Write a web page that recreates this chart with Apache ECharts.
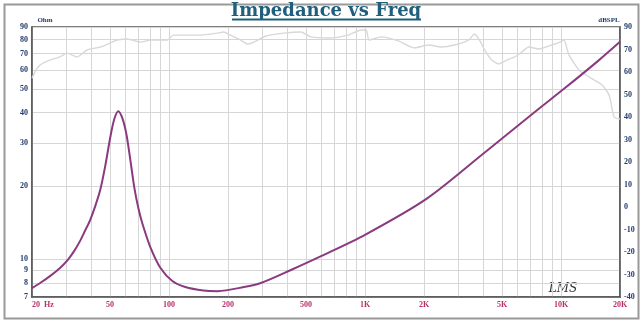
<!DOCTYPE html>
<html><head><meta charset="utf-8">
<script src="https://cdn.jsdelivr.net/npm/echarts@6/dist/echarts.min.js"></script>
<style>html,body{margin:0;padding:0;background:#fff}#c{width:641px;height:321px}</style>
</head><body><div id="c"></div>
<script>
// Impedance curve (Hz, Ohm)
const impFreq = [20, 22.0, 24.7, 27.8, 30.6, 32.8, 35.2, 37.3, 39.6, 42.0, 44.6, 47.3, 50.2, 52.6, 55.1, 57.8, 60.6, 63.5, 66.6, 69.8, 73.2, 80.4, 90.5, 104, 121, 150, 177, 241, 294, 419, 597, 1000, 2058, 3936, 7350, 10470, 15630, 20000];
const impOhm  = [7.62, 7.99, 8.53, 9.21, 10.0, 10.8, 11.9, 13.1, 14.5, 16.5, 19.3, 24.2, 31.8, 37.7, 40.6, 38.0, 32.7, 25.6, 19.6, 16.2, 14.0, 11.2, 9.21, 8.14, 7.69, 7.44, 7.40, 7.69, 7.99, 9.04, 10.3, 12.6, 17.7, 26.8, 40.3, 50.5, 65.8, 78.2];

// SPL curve (Hz, dBSPL), light gray
const splFreq = [20, 21.0, 22.0, 23.3, 24.7, 27.8, 30.2, 34.0, 38.2, 44.6, 50.2, 54.5, 61.3, 71.5, 80.4, 98.2, 105, 145, 177, 190, 206, 232, 252, 271, 312, 386, 471, 530, 648, 821, 956, 1014, 1050, 1210, 1479, 1786, 2106, 2455, 2862, 3376, 3622, 3842, 4078, 4428, 4808, 5284, 5808, 6306, 6848, 7706, 8982, 9870, 10346, 10978, 12352, 13896, 16198, 17590, 18658, 20000];
const splDb   = [57.3, 60.9, 63.1, 64.4, 65.3, 66.7, 68.4, 66.7, 69.8, 71.1, 72.9, 74.2, 74.7, 73.3, 74.2, 74.2, 76.4, 76.4, 77.3, 77.8, 76.4, 74.2, 72.4, 73.3, 76.0, 77.3, 77.8, 75.6, 75.1, 76.4, 78.7, 78.7, 74.2, 75.6, 73.8, 70.7, 72.0, 71.1, 72.0, 74.2, 76.9, 74.2, 69.8, 65.3, 63.6, 65.3, 66.7, 68.9, 71.1, 70.2, 72.0, 73.3, 74.2, 67.6, 60.9, 57.8, 54.2, 49.8, 40.0, 39.1];

// Axis ticks / labels
const xGridValues = [20,30,40,50,60,70,80,90,100,200,300,400,500,600,700,800,900,1000,2000,3000,4000,5000,6000,7000,8000,9000,10000,20000];
const xLabelValues = [20, 50, 100, 200, 500, 1000, 2000, 5000, 10000, 20000];
const xLabelTexts  = ['20  Hz', '50', '100', '200', '500', '1K', '2K', '5K', '10K', '20K'];
const yGridValues = [7, 8, 9, 10, 20, 30, 40, 50, 60, 70, 80, 90];
const yLabelTexts = ['7', '8', '9', '10', '20', '30', '40', '50', '60', '70', '80', '90'];
const rightLabelTexts = ['-40', '-30', '-20', '-10', '0', '10', '20', '30', '40', '50', '60', '70', '90'];

function pick(vals, texts, v) {
  for (let i = 0; i < vals.length; i++) {
    if (Math.abs(v - vals[i]) / vals[i] < 1e-4) return texts[i];
  }
  return '';
}

const navy = '#223a6b';
const frame = '#555';
const gridCol = '#d6d6d6';
const labelFont = '"Liberation Serif", serif';

const chart = echarts.init(document.getElementById('c'), null, {renderer: 'canvas'});
chart.setOption({
  animation: false,
  backgroundColor: '#fff',
  grid: {left: 32, top: 27, width: 588, height: 270, show: true, borderColor: frame, borderWidth: 1.5, containLabel: false},
  xAxis: {
    type: 'log', logBase: 10, min: 20, max: 20000,
    axisLine: {show: true, onZero: false, lineStyle: {color: frame, width: 1.5}},
    axisTick: {show: false, customValues: xGridValues},
    minorTick: {show: false},
    splitLine: {show: true, lineStyle: {color: gridCol, width: 1}},
    axisLabel: {
      customValues: xLabelValues, margin: 4, color: '#b8306a', fontSize: 8, fontWeight: 'bold', fontFamily: labelFont,
      formatter: function (v) {
        const t = pick(xLabelValues, xLabelTexts, v);
        return t.indexOf('Hz') >= 0 ? '{h|' + t + '}' : t;
      },
      rich: {h: {padding: [0, 0, 0, 22], color: '#b8306a', fontSize: 8, fontWeight: 'bold', fontFamily: labelFont}}
    }
  },
  yAxis: [{
    type: 'log', logBase: 10, min: 7, max: 90, position: 'left',
    axisLine: {show: true, lineStyle: {color: frame, width: 1.5}},
    axisTick: {show: false, customValues: yGridValues},
    minorTick: {show: false},
    splitLine: {show: true, lineStyle: {color: gridCol, width: 1}},
    axisLabel: {
      customValues: yGridValues, margin: 4, color: navy, fontSize: 8, fontWeight: 'bold', fontFamily: labelFont,
      formatter: function (v) { return pick(yGridValues, yLabelTexts, v); }
    }
  }, {
    type: 'value', min: -40, max: 80, interval: 10, position: 'right',
    axisLine: {show: true, lineStyle: {color: frame, width: 1.5}},
    axisTick: {show: false},
    splitLine: {show: false},
    axisLabel: {
      margin: 4, color: navy, fontSize: 8, fontWeight: 'bold', fontFamily: labelFont,
      formatter: function (v) { return rightLabelTexts[Math.round((v + 40) / 10)]; }
    }
  }],
  series: [{
    type: 'line', yAxisIndex: 1, symbol: 'none', smooth: 0.2,
    lineStyle: {color: '#d8d8d8', width: 1.4},
    data: splFreq.map((f, i) => [f, splDb[i]]),
    z: 2
  }, {
    type: 'line', yAxisIndex: 0, symbol: 'none', smooth: 0.3,
    lineStyle: {color: '#8a3a7e', width: 2},
    data: impFreq.map((f, i) => [f, impOhm[i]]),
    z: 3
  }],
  graphic: [
    {type: 'rect', left: 2, top: 2, shape: {width: 634, height: 314}, style: {fill: null, stroke: '#999', lineWidth: 2}, z: -1, silent: true},
    {type: 'text', x: 326, y: 2, style: {text: 'Impedance vs Freq', fill: '#1f5f7e', font: 'bold 18px "DejaVu Serif", serif', textAlign: 'center', textVerticalAlign: 'top'}},
    {type: 'line', shape: {x1: 232, y1: 19.5, x2: 421, y2: 19.5}, style: {stroke: '#1f5f7e', lineWidth: 2}},
    {type: 'text', x: 45, y: 20, style: {text: 'Ohm', fill: navy, font: 'bold 7px "Liberation Serif", serif', textAlign: 'center', textVerticalAlign: 'middle'}},
    {type: 'text', x: 609, y: 20, style: {text: 'dBSPL', fill: navy, font: 'bold 7px "Liberation Serif", serif', textAlign: 'center', textVerticalAlign: 'middle'}},
    {type: 'text', x: 563, y: 289, style: {text: 'LMS', fill: '#333', font: 'italic 12px "DejaVu Serif", serif', textAlign: 'center', textVerticalAlign: 'middle'}}
  ]
});
</script></body></html>
